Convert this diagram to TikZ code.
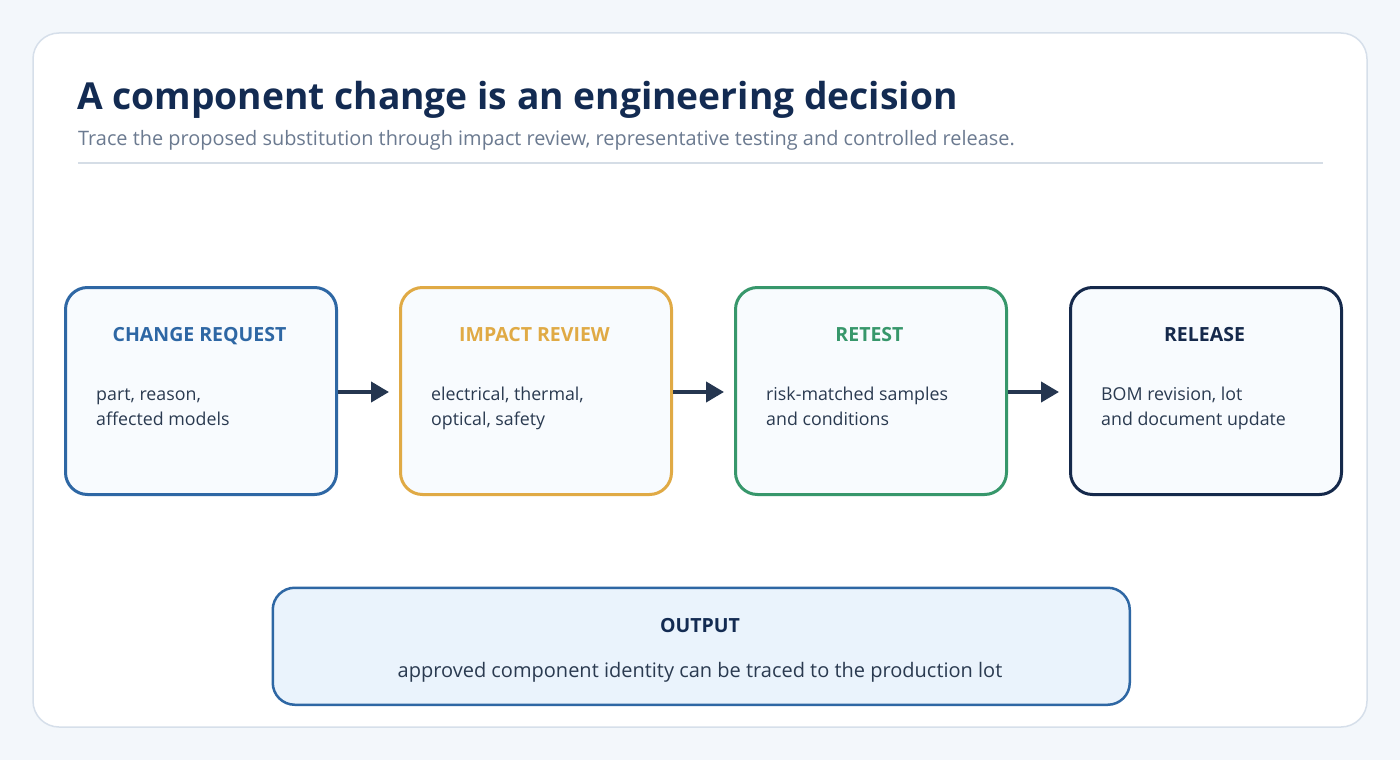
\documentclass[tikz,border=0pt]{standalone}
\usepackage{fontspec}
\setmainfont{Open Sans}
\usetikzlibrary{arrows.meta}
\definecolor{bg}{HTML}{F3F7FB}
\definecolor{cardline}{HTML}{D6DFEA}
\definecolor{titlec}{HTML}{132B52}
\definecolor{subc}{HTML}{6B7A90}
\definecolor{rulec}{HTML}{D5DDE6}
\definecolor{cblue}{HTML}{2E67A4}
\definecolor{cgold}{HTML}{E0AA45}
\definecolor{cgreen}{HTML}{37976B}
\definecolor{cnavy}{HTML}{15294B}
\definecolor{boxfill}{HTML}{F8FBFE}
\definecolor{outfill}{HTML}{EAF3FC}
\definecolor{bodyc}{HTML}{2A3A50}
\definecolor{arrowc}{HTML}{253650}
\begin{document}
\begin{tikzpicture}[x=1pt,y=-1pt,
  stagebox/.style={draw, line width=3pt, rounded corners=22pt, fill=boxfill,
    minimum width=271pt, minimum height=207pt, inner sep=0pt, anchor=north west},
  stagetitle/.style={font=\bfseries\fontsize{19.5}{22}\selectfont, anchor=base},
  bodytext/.style={font=\fontsize{17.8}{25}\selectfont, text=bodyc, anchor=base west, inner sep=0pt},
  flow/.style={draw=arrowc, line width=4pt, -{Triangle[length=18pt,width=20pt]}, shorten >=10pt}
]
\useasboundingbox (0,0) rectangle (1400,760);
\fill[bg] (0,0) rectangle (1400,760);
\draw[cardline, line width=1.5pt, fill=white, rounded corners=26pt] (33,33) rectangle (1367,727);

\node[anchor=base west, inner sep=0pt, text=titlec, font=\bfseries\fontsize{37.2}{42}\selectfont] (title) at (77,109) {A component change is an engineering decision};
\node[anchor=base west, inner sep=0pt, text=subc, font=\fontsize{19.9}{23}\selectfont] (sub) at (78,145) {Trace the proposed substitution through impact review, representative testing and controlled release.};
\draw[rulec, line width=1.5pt] (78,163) -- (1323,163);

\node[stagebox, draw=cblue] (b1) at (64,286) {};
\node[stagebox, draw=cgold] (b2) at (399,286) {};
\node[stagebox, draw=cgreen] (b3) at (734,286) {};
\node[stagebox, draw=cnavy] (b4) at (1069,286) {};

\node[stagetitle, text=cblue] (t1) at (199.5,341) {CHANGE REQUEST};
\node[stagetitle, text=cgold] (t2) at (534.5,341) {IMPACT REVIEW};
\node[stagetitle, text=cgreen] (t3) at (869.5,341) {RETEST};
\node[stagetitle, text=cnavy] (t4) at (1204.5,341) {RELEASE};

\node[bodytext] (d1) at (96,400) {part, reason,};
\node[bodytext] (d1b) at (96,425) {affected models};
\node[bodytext] (d2) at (431,400) {electrical, thermal,};
\node[bodytext] (d2b) at (431,425) {optical, safety};
\node[bodytext] (d3) at (766,400) {risk-matched samples};
\node[bodytext] (d3b) at (766,425) {and conditions};
\node[bodytext] (d4) at (1101,400) {BOM revision, lot};
\node[bodytext] (d4b) at (1101,425) {and document update};

\draw[flow] ([yshift=-1pt]b1.east) -- ([yshift=-1pt]b2.west);
\draw[flow] ([yshift=-1pt]b2.east) -- ([yshift=-1pt]b3.west);
\draw[flow] ([yshift=-1pt]b3.east) -- ([yshift=-1pt]b4.west);

\node[draw=cblue, line width=2.5pt, rounded corners=22pt, fill=outfill, minimum width=857pt, minimum height=117pt, inner sep=0pt, anchor=north west] (out) at (271.5,586.5) {};
\node[stagetitle, text=titlec] (ot) at (700,632) {OUTPUT};
\node[anchor=base, inner sep=0pt, text=bodyc, font=\fontsize{20}{23}\selectfont] (otx) at (700,677) {approved component identity can be traced to the production lot};
\end{tikzpicture}
\end{document}
